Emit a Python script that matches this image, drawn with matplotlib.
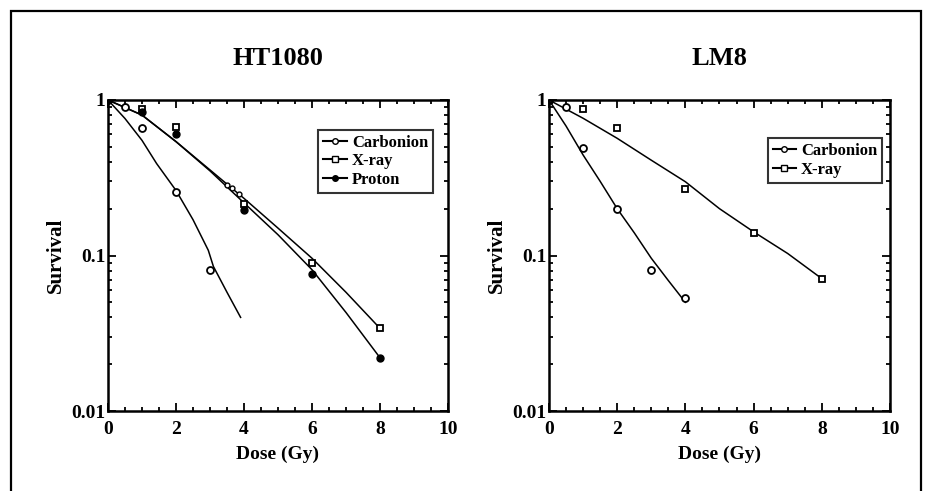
import matplotlib
matplotlib.use("Agg")
import matplotlib.pyplot as plt
from matplotlib.patches import Rectangle
from matplotlib.ticker import FixedLocator, MultipleLocator, LogLocator, NullFormatter

plt.rcParams['font.family'] = ['Liberation Serif', 'DejaVu Serif']
plt.rcParams['font.weight'] = 'bold'

# ---- HT1080 data ----
ht_c_dose = [0, 0.5, 1, 2, 3]
ht_c_surv = [1.0, 0.90, 0.66, 0.255, 0.081]
ht_c_fit_dose = [0, 0.5, 1, 1.43, 2, 2.5, 2.95, 3.1, 3.5, 3.9]
ht_c_fit_surv = [1.0, 0.76, 0.55, 0.39, 0.262, 0.17, 0.108, 0.085, 0.058, 0.040]

ht_x_dose = [0, 1, 2, 4, 6, 8]
ht_x_surv = [1.0, 0.88, 0.67, 0.214, 0.089, 0.034]
ht_x_fit_dose = [0, 1, 2, 3, 4, 5, 6, 7, 8]
ht_x_fit_surv = [1.0, 0.80, 0.54, 0.355, 0.233, 0.150, 0.096, 0.058, 0.034]

ht_p_dose = [0, 1, 2, 4, 6, 8]
ht_p_surv = [1.0, 0.84, 0.60, 0.196, 0.076, 0.022]
ht_p_fit_dose = [0, 1, 2, 3, 4, 5, 6, 7, 8]
ht_p_fit_surv = [1.0, 0.80, 0.54, 0.35, 0.218, 0.136, 0.081, 0.043, 0.022]

# small extra open circles sitting on the fit lines
ht_extra_dose = [3.5, 3.65, 3.85]
ht_extra_surv = [0.284, 0.27, 0.25]

# ---- LM8 data ----
lm_c_dose = [0, 0.5, 1, 2, 3, 4]
lm_c_surv = [1.0, 0.90, 0.49, 0.198, 0.081, 0.053]
lm_c_fit_dose = [0, 0.5, 1, 1.5, 2, 2.5, 3, 3.5, 4]
lm_c_fit_surv = [1.0, 0.68, 0.443, 0.30, 0.20, 0.14, 0.096, 0.069, 0.050]

lm_x_dose = [0, 1, 2, 4, 6, 8]
lm_x_surv = [1.0, 0.87, 0.664, 0.266, 0.139, 0.071]
lm_x_fit_dose = [0, 1, 2, 3, 4, 5, 6, 7, 8]
lm_x_fit_surv = [1.0, 0.763, 0.567, 0.41, 0.298, 0.20, 0.142, 0.103, 0.071]

fig = plt.figure(figsize=(9.28, 4.91), dpi=100)
fig.patches.append(Rectangle((11/928, -0.05), 910/928, 1.05 - 11/491,
                             transform=fig.transFigure, fill=False,
                             edgecolor='black', linewidth=1.6))

ax1 = fig.add_axes([108/928, 80/491, 340/928, 311/491])
ax2 = fig.add_axes([549/928, 80/491, 341/928, 311/491])

lw = 1.1
ms = 5

def style(ax, title):
    ax.set_yscale('log')
    ax.set_xlim(0, 10)
    ax.set_ylim(0.01, 1)
    ax.xaxis.set_major_locator(MultipleLocator(2))
    ax.xaxis.set_minor_locator(MultipleLocator(0.5))
    ax.yaxis.set_major_locator(FixedLocator([0.01, 0.1, 1]))
    ax.yaxis.set_minor_locator(LogLocator(base=10, subs=range(2, 10)))
    ax.yaxis.set_minor_formatter(NullFormatter())
    ax.set_yticklabels(['0.01', '0.1', '1'])
    ax.tick_params(which='both', direction='in', top=True, right=True,
                   labelsize=14, width=1.3)
    ax.tick_params(which='major', length=6, pad=2)
    ax.tick_params(axis='x', which='major', pad=7)
    ax.tick_params(which='minor', length=3)
    for s in ax.spines.values():
        s.set_linewidth(1.8)
    ax.set_xlabel('Dose (Gy)', fontsize=14, fontweight='bold', labelpad=6)
    ax.set_ylabel('Survival', fontsize=15, fontweight='bold', labelpad=4)
    ax.set_title(title, fontsize=19, fontweight='bold', pad=25)

# HT1080
ax1.plot(ht_c_fit_dose, ht_c_fit_surv, color='black', lw=lw)
ax1.plot(ht_x_fit_dose, ht_x_fit_surv, color='black', lw=lw)
ax1.plot(ht_p_fit_dose, ht_p_fit_surv, color='black', lw=lw)
ax1.plot(ht_c_dose, ht_c_surv, 'o', mfc='white', mec='black', mew=1.3, ms=ms)
ax1.plot(ht_x_dose, ht_x_surv, 's', mfc='white', mec='black', mew=1.3, ms=ms)
ax1.plot(ht_p_dose, ht_p_surv, 'o', mfc='black', mec='black', ms=ms)
ax1.plot(ht_extra_dose, ht_extra_surv, 'o', mfc='white', mec='black', mew=1.0, ms=3.5)
h1 = ax1.plot([], [], '-o', color='black', mfc='white', lw=1.5, ms=4, label='Carbonion')[0]
h2 = ax1.plot([], [], '-s', color='black', mfc='white', lw=1.5, ms=4, label='X-ray')[0]
h3 = ax1.plot([], [], '-o', color='black', mfc='black', lw=1.5, ms=4, label='Proton')[0]
leg1 = ax1.legend(handles=[h1, h2, h3], loc='upper right', bbox_to_anchor=(0.956, 0.905),
                  fontsize=12, frameon=True, fancybox=False, handlelength=1.4,
                  handletextpad=0.3, borderpad=0.3, labelspacing=0.15, borderaxespad=0)
leg1.get_frame().set_edgecolor('black')
leg1.get_frame().set_linewidth(1.5)
style(ax1, 'HT1080')

# LM8
ax2.plot(lm_c_fit_dose, lm_c_fit_surv, color='black', lw=lw)
ax2.plot(lm_x_fit_dose, lm_x_fit_surv, color='black', lw=lw)
ax2.plot(lm_c_dose, lm_c_surv, 'o', mfc='white', mec='black', mew=1.3, ms=ms)
ax2.plot(lm_x_dose, lm_x_surv, 's', mfc='white', mec='black', mew=1.3, ms=ms)
g1 = ax2.plot([], [], '-o', color='black', mfc='white', lw=1.5, ms=4, label='Carbonion')[0]
g2 = ax2.plot([], [], '-s', color='black', mfc='white', lw=1.5, ms=4, label='X-ray')[0]
leg2 = ax2.legend(handles=[g1, g2], loc='upper right', bbox_to_anchor=(0.977, 0.877),
                  fontsize=12, frameon=True, fancybox=False, handlelength=1.4,
                  handletextpad=0.3, borderpad=0.3, labelspacing=0.15, borderaxespad=0)
leg2.get_frame().set_edgecolor('black')
leg2.get_frame().set_linewidth(1.5)
style(ax2, 'LM8')

fig.savefig('out.png', dpi=100)
